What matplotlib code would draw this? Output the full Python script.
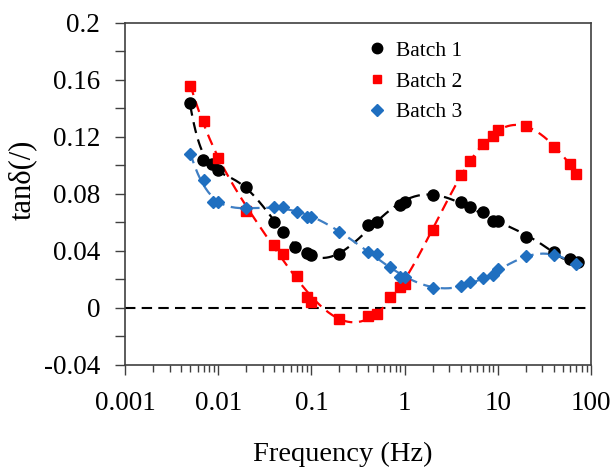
import numpy as np
import matplotlib
matplotlib.use("Agg")
import matplotlib.pyplot as plt
from matplotlib.lines import Line2D
from matplotlib.ticker import MultipleLocator, LogLocator, FixedLocator, FixedFormatter

plt.rcParams['font.family'] = ['Liberation Serif', 'DejaVu Serif']

# Batch 1 (black circles)
freq1 = [0.005, 0.0069, 0.0086, 0.01, 0.02, 0.04, 0.05, 0.067, 0.09, 0.1,
         0.2, 0.4, 0.5, 0.9, 1.0, 2.0, 4.0, 5.0, 7.0, 9.0, 10.0, 20.0, 40.0, 60.0, 72.0]
tan1 = [0.144, 0.104, 0.101, 0.097, 0.085, 0.060, 0.053, 0.043, 0.0386, 0.037,
        0.038, 0.058, 0.060, 0.072, 0.074, 0.079, 0.0745, 0.071, 0.067, 0.061, 0.061,
        0.050, 0.039, 0.034, 0.032]

# Batch 2 (red squares)
freq2 = [0.005, 0.007, 0.01, 0.02, 0.04, 0.05, 0.07, 0.09, 0.1,
         0.2, 0.4, 0.5, 0.7, 0.9, 1.0, 2.0, 4.0, 5.0, 7.0, 9.0, 10.0, 20.0, 40.0, 60.0, 70.0]
tan2 = [0.156, 0.131, 0.105, 0.068, 0.044, 0.038, 0.0225, 0.0077, 0.004,
        -0.0077, -0.0056, -0.004, 0.0077, 0.015, 0.017, 0.055, 0.093, 0.103, 0.115,
        0.121, 0.125, 0.128, 0.113, 0.101, 0.094]

# Batch 3 (blue diamonds)
freq3 = [0.005, 0.007, 0.0088, 0.01, 0.02, 0.04, 0.05, 0.07, 0.09, 0.1,
         0.2, 0.4, 0.5, 0.7, 0.9, 1.0, 2.0, 4.0, 5.0, 7.0, 9.0, 10.0, 20.0, 40.0, 70.0]
tan3 = [0.108, 0.090, 0.0745, 0.074, 0.070, 0.071, 0.071, 0.067, 0.064, 0.064,
        0.053, 0.039, 0.038, 0.029, 0.022, 0.022, 0.014, 0.0155, 0.018, 0.021,
        0.023, 0.027, 0.0365, 0.037, 0.031]

labels = ["Batch 1", "Batch 2", "Batch 3"]
xticks = [0.001, 0.01, 0.1, 1, 10, 100]
xticklabels = ["0.001", "0.01", "0.1", "1", "10", "100"]
yticks = [-0.04, 0, 0.04, 0.08, 0.12, 0.16, 0.2]
yticklabels = ["-0.04", "0", "0.04", "0.08", "0.12", "0.16", "0.2"]

blue = '#1F6FC0'
blue_line = '#3F7FC4'

fig = plt.figure(figsize=(6.13, 4.69), dpi=100)
ax = fig.add_axes([0.204, 0.222, 0.76, 0.729])

series = [
    (freq1, tan1, 'black', 'black', 'o', 8, 8),
    (freq2, tan2, '#FF0000', '#FF0000', 's', 6.5, 8),
    (freq3, tan3, blue, blue_line, 'D', 6, 8),
]
for f, t, mc, lc, mk, ms, deg in series:
    lf = np.log10(f)
    coef = np.polyfit(lf, t, deg)
    xs = np.linspace(lf.min(), lf.max(), 300)
    ax.plot(10 ** xs, np.polyval(coef, xs), color=lc, lw=1.6, ls=(0, (5, 3)), zorder=2)
    ax.plot(f, t, ls='none', marker=mk, ms=ms, color=mc, mec=mc, zorder=3)

ax.axhline(0, color='black', lw=1.5, ls=(0, (5, 3)), zorder=1)

ax.set_xscale('log')
ax.set_xlim(0.001, 100)
ax.set_ylim(-0.04, 0.2)
ax.xaxis.set_major_locator(FixedLocator(xticks))
ax.xaxis.set_major_formatter(FixedFormatter(xticklabels))
ax.xaxis.set_minor_locator(LogLocator(base=10, subs=np.arange(2, 10)))
ax.yaxis.set_major_locator(FixedLocator(yticks))
ax.yaxis.set_major_formatter(FixedFormatter(yticklabels))
ax.yaxis.set_minor_locator(MultipleLocator(0.02))

ax.tick_params(which='both', direction='out', color='#404040', width=1)
ax.tick_params(axis='x', which='major', length=7, pad=12, labelsize=19.5)
ax.tick_params(axis='x', which='minor', length=5)
ax.tick_params(axis='y', which='both', length=7, pad=11, labelsize=19.5)
for s in ax.spines.values():
    s.set_color('#404040')
    s.set_linewidth(1.2)

ax.set_xlabel("Frequency (Hz)", fontsize=20.5)
ax.xaxis.set_label_coords(0.468, -0.226)
ax.set_ylabel("tanδ(/)", fontsize=22)
ax.yaxis.set_label_coords(-0.19, 0.54)

handles = [Line2D([], [], ls='none', marker='o', ms=7.5, color='black'),
           Line2D([], [], ls='none', marker='s', ms=6, color='#FF0000'),
           Line2D([], [], ls='none', marker='D', ms=6, color=blue)]
ax.legend(handles, labels, loc='upper left', bbox_to_anchor=(0.48, 1.005),
          frameon=False, fontsize=15.5, handlelength=0.8, handletextpad=0.5,
          labelspacing=0.5)

fig.savefig("out.png", dpi=100)
